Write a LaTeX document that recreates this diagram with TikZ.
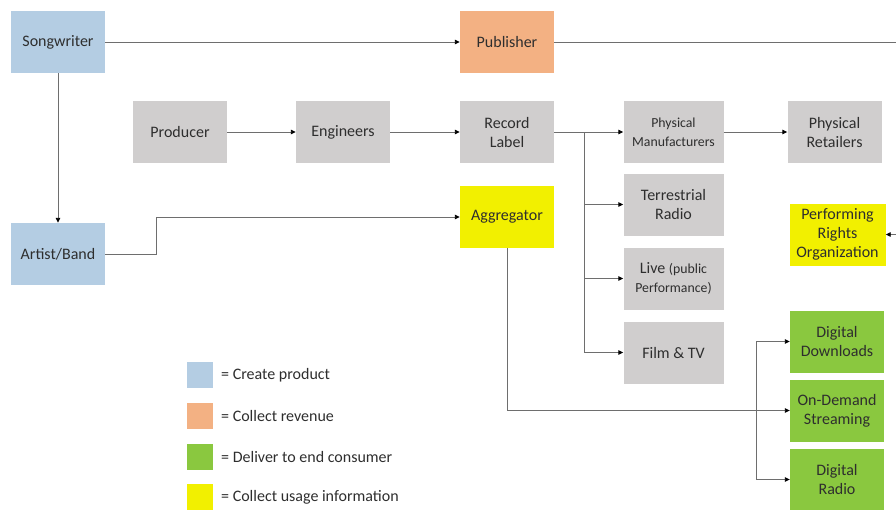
\documentclass[tikz,border=0pt]{standalone}
\usepackage{fontspec}
\setmainfont{Carlito}
\usetikzlibrary{arrows.meta}
\definecolor{createblue}{HTML}{B4CDE3}
\definecolor{revorange}{HTML}{F3B183}
\definecolor{stepgray}{HTML}{D0CECE}
\definecolor{delivgreen}{HTML}{8AC83F}
\definecolor{usageyellow}{HTML}{F2F000}
\definecolor{txt}{HTML}{2E2E2E}
\definecolor{wire}{HTML}{6E6E6E}
\newcommand{\smalltxt}{\fontsize{13.8}{17}\selectfont}
\tikzset{
  box/.style={draw=none, inner sep=0pt, align=center, text=txt,
    minimum width=94pt, minimum height=62pt,
    font=\fontsize{16}{19}\selectfont},
  widebox/.style={box, minimum width=100pt},
  swatch/.style={draw=none, minimum width=26pt, minimum height=26pt, inner sep=0pt},
  legtext/.style={anchor=west, inner sep=0pt, text=txt, font=\fontsize{16}{19}\selectfont},
  wireline/.style={draw=wire, line width=0.9pt},
  arr/.style={wireline, -{Triangle[length=5pt,width=4.5pt,color=black]}},
}
\begin{document}
\begin{tikzpicture}[x=1pt,y=-1pt]
\useasboundingbox (0,0) rectangle (896,509);

% creators and publisher
\node[box, fill=createblue] (sw)  at (58,42)  {Songwriter};
\node[box, fill=revorange]  (pub) at (507,42) {Publisher};
\node[box, fill=createblue] (ab)  at (58,254) {Artist/Band};

% recording chain
\node[box, fill=stepgray] (prod) at (180,132) {Producer};
\node[box, fill=stepgray] (eng)  at (343,132) {Engineers};
\node[box, fill=stepgray] (rl)   at (507,132) {Record\\Label};
\node[box, fill=usageyellow] (agg) at (507,217) {Aggregator};

% physical and broadcast outlets
\node[widebox, fill=stepgray] (pm)   at (673.5,132) {\smalltxt Physical\\\smalltxt Manufacturers};
\node[box, fill=stepgray]     (pr)   at (834.5,132) {Physical\\Retailers};
\node[widebox, fill=stepgray] (tr)   at (673.5,204.5) {Terrestrial\\Radio};
\node[widebox, fill=stepgray] (live) at (673.5,278.5) {Live {\smalltxt(public}\\\smalltxt Performance)};
\node[widebox, fill=stepgray] (film) at (673.5,352.5) {Film \& TV};

% rights organisation and digital outlets
\node[box, fill=usageyellow, minimum width=96pt] (pro) at (837.5,234.5) {Performing\\Rights\\Organization};
\node[box, fill=delivgreen] (dd)  at (837,341.5) {Digital\\Downloads};
\node[box, fill=delivgreen] (ods) at (837,410.5) {On-Demand\\Streaming};
\node[box, fill=delivgreen] (dr)  at (837,479.5) {Digital\\Radio};

% free ends and branch points
\coordinate (pubout) at (896,42);
\coordinate (proin)  at (896,234.5);
\coordinate (rlbr)   at (584,132);
\coordinate (dbr)    at (756,341.5);

% connectors
\draw[arr] (sw) -- (pub);
\draw[wireline] (pub.east) -- (pubout);
\draw[arr] (sw) -- (ab);
\draw[arr] (ab.east) -- ++(51,0) |- (agg.west);
\draw[arr] (prod) -- (eng);
\draw[arr] (eng) -- (rl);
\draw[arr] (rl) -- (pm);
\draw[arr] (pm) -- (pr);
\draw[arr] (rlbr) |- (tr.west);
\draw[arr] (rlbr) |- (live.west);
\draw[arr] (rlbr) |- (film.west);
\draw[arr] (agg.south) |- (ods.west);
\draw[arr] (dbr) -- (dd.west);
\draw[arr] (dbr) |- (dr.west);
\draw[arr] (proin) -- (pro.east);

% legend
\node[swatch, fill=createblue]  (k1) at (200,375) {};
\node[swatch, fill=revorange]   (k2) at (200,416) {};
\node[swatch, fill=delivgreen]  (k3) at (200,456.5) {};
\node[swatch, fill=usageyellow] (k4) at (200,497) {};
\node[legtext] (l1) at (221,375) {= Create product};
\node[legtext] (l2) at (221,416) {= Collect revenue};
\node[legtext] (l3) at (221,456.5) {= Deliver to end consumer};
\node[legtext] (l4) at (221,497) {= Collect usage information};
\end{tikzpicture}
\end{document}
